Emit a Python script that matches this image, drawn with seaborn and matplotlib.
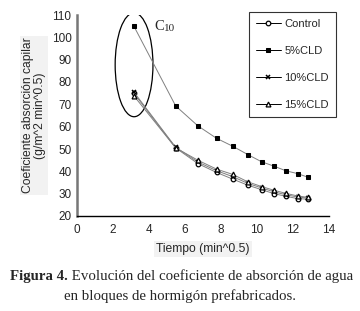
import matplotlib
matplotlib.use('Agg')
import pandas as pd
import seaborn as sns
from matplotlib import pyplot as plt
from matplotlib.patches import Ellipse

# time axis (min^0.5)
tiempo = [3.16, 5.48, 6.71, 7.75, 8.66, 9.49, 10.25, 10.95, 11.62, 12.25, 12.85]

control = [75.0, 50.5, 43.5, 39.5, 36.5, 33.8, 31.8, 30.0, 28.8, 27.8, 27.5]
cld5 = [105.0, 69.3, 60.4, 54.8, 51.2, 47.5, 44.3, 42.3, 40.2, 39.0, 37.3]
cld10 = [75.5, 50.8, 44.2, 40.3, 37.6, 34.6, 32.6, 30.8, 29.5, 28.5, 28.0]
cld15 = [73.8, 50.5, 45.0, 41.0, 38.6, 35.3, 33.2, 31.5, 30.1, 29.0, 28.3]

df = pd.DataFrame({'Tiempo': tiempo, 'Control': control, '5%CLD': cld5,
                   '10%CLD': cld10, '15%CLD': cld15})

sns.set_style('white')
plt.rcParams['font.family'] = ['Liberation Sans', 'DejaVu Sans']

fig = plt.figure(figsize=(3.6, 3.11), dpi=100)
ax = fig.add_axes([77/360, 1 - 216/311, 252/360, 201/311])

line_col = '#808080'
sns.lineplot(x='Tiempo', y='Control', data=df, color=line_col, lw=0.7, marker='o',
             ms=3.3, mfc='white', mec='black', mew=0.9, label='Control', ax=ax)
sns.lineplot(x='Tiempo', y='5%CLD', data=df, color=line_col, lw=0.7, marker='s',
             ms=3, mfc='black', mec='black', label='5%CLD', ax=ax)
sns.lineplot(x='Tiempo', y='10%CLD', data=df, color=line_col, lw=0.7, marker='x',
             ms=3.5, mec='black', mew=1.1, label='10%CLD', ax=ax)
sns.lineplot(x='Tiempo', y='15%CLD', data=df, color=line_col, lw=0.7, marker='^',
             ms=3.5, mfc='white', mec='black', mew=0.9, label='15%CLD', ax=ax)

ax.set_xlim(0, 14)
ax.set_ylim(20, 110)
ax.set_xticks(range(0, 15, 2))
ax.set_yticks(range(20, 111, 10))
for s in ['top', 'right']:
    ax.spines[s].set_visible(False)
ax.spines['left'].set_color('#777777')
ax.spines['left'].set_linewidth(1.8)
ax.spines['bottom'].set_color('black')
ax.spines['bottom'].set_linewidth(1.0)
ax.tick_params(direction='inout', length=4, width=0.9, labelsize=8.5, color='black', pad=2)
ax.tick_params(axis='x', pad=4)

lbl_box = dict(facecolor='#f2f2f2', edgecolor='none', pad=1.5)
ax.set_xlabel('Tiempo (min^0.5)', fontsize=8.7, labelpad=5, bbox=lbl_box)
ax.set_ylabel('Coeficiente absorción capilar\n(g/m^2 min^0.5)', fontsize=8.7,
              labelpad=4, linespacing=1.0, bbox=lbl_box)

# ellipse around the first readings
ax.add_patch(Ellipse((3.17, 87.7), 2.1, 46.5, fill=False, edgecolor='black', lw=0.9))
c_txt = ax.text(4.3, 103.2, 'C', family='Liberation Serif', fontsize=10.5, va='baseline')
ax.annotate('10', xy=(1, 0), xycoords=c_txt, family='Liberation Serif', fontsize=8,
            va='bottom')

leg = ax.legend(loc='upper left', bbox_to_anchor=(249/360, 1 - 12/311),
                bbox_transform=fig.transFigure, fontsize=8, frameon=True,
                fancybox=False, edgecolor='black', labelspacing=1.55,
                handlelength=2.3, handletextpad=0.3, borderpad=0.6,
                borderaxespad=0)
leg.get_frame().set_linewidth(0.8)
for h in leg.get_lines():
    h.set_color('black')

t1 = fig.text(10/360, 1 - 280/311, 'Figura 4.', family='Liberation Serif',
              fontweight='bold', fontsize=10.7, va='baseline')
ax.annotate(' Evolución del coeficiente de absorción de agua', xy=(1, 0), xycoords=t1,
            family='Liberation Serif', fontsize=10.7, va='bottom', annotation_clip=False)
fig.text(0.5, 1 - 300/311, 'en bloques de hormigón prefabricados.', family='Liberation Serif',
         fontsize=10.7, ha='center', va='baseline')

fig.savefig('out.png', dpi=100)
